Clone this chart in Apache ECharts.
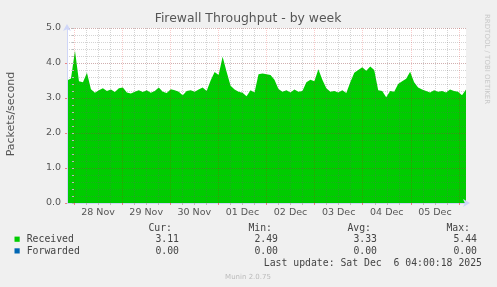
<!DOCTYPE html>
<html><head><meta charset="utf-8">
<script src="https://cdn.jsdelivr.net/npm/echarts@6/dist/echarts.min.js"></script>
<style>html,body{margin:0;padding:0;background:#f0f0f0}#c{width:497px;height:287px}</style>
</head><body><div id="c"></div>
<script>
const title = 'Firewall Throughput - by week';
const yAxisName = 'Packets/second';
const dayLabels = ['28 Nov','29 Nov','30 Nov','01 Dec','02 Dec','03 Dec','04 Dec','05 Dec'];
const dayLabelHours = [12, 36, 60, 84, 108, 132, 156, 180];      // noon of each day, hours from 28 Nov 00:00
const midnightHours = [0, 24, 48, 72, 96, 120, 144, 168, 192];
const sixHourMarks = [6,12,18,30,36,42,54,60,66,78,84,90,102,108,114,126,132,138,150,156,162,174,180,186];
const yTickLabels = ['0.0','1.0','2.0','3.0','4.0','5.0'];
const startHour = -3.5;
const endHour = 195.5;
const received = [
  3.50,3.56,4.35,3.48,3.45,3.72,3.25,3.15,3.22,3.28,
  3.20,3.24,3.17,3.28,3.30,3.16,3.13,3.18,3.22,3.17,
  3.22,3.15,3.20,3.30,3.18,3.14,3.25,3.22,3.18,3.08,
  3.20,3.22,3.18,3.24,3.30,3.20,3.50,3.74,3.66,4.18,
  3.75,3.35,3.24,3.18,3.15,3.05,3.22,3.16,3.68,3.70,
  3.68,3.66,3.52,3.26,3.18,3.22,3.16,3.24,3.18,3.20,
  3.45,3.52,3.48,3.82,3.52,3.28,3.18,3.20,3.16,3.22,
  3.14,3.45,3.72,3.80,3.88,3.78,3.90,3.80,3.22,3.20,
  3.02,3.20,3.18,3.40,3.48,3.55,3.75,3.45,3.30,3.24,
  3.20,3.16,3.22,3.18,3.20,3.16,3.24,3.20,3.18,3.08,
  3.24
];
const forwarded = [0.00, 0.00];
const legendHeaders = ['Cur:','Min:','Avg:','Max:'];
const receivedStats = ['3.11','2.49','3.33','5.44'];
const forwardedStats = ['0.00','0.00','0.00','0.00'];
const seriesNames = ['Received','Forwarded'];
const seriesColors = ['#00cc00','#0066b3'];
const lastUpdate = 'Last update: Sat Dec  6 04:00:18 2025';
const footer = 'Munin 2.0.75';
const sideText = 'RRDTOOL / TOBI OETIKER';

const step = (endHour - startHour) / (received.length - 1);
const recData = received.map((v, i) => [startHour + i * step, v]);
const fwdData = [[startHour, forwarded[0]], [endHour, forwarded[1]]];

const AXIS = '#cfd6f8';
const MAJ = 'rgba(230,0,0,0.2)';
const MIN = 'rgba(100,100,100,0.28)';
const LBL = '#555';
const SANS = 'DejaVu Sans';
const MONO = 'DejaVu Sans Mono';

function txt(x, y, text, opt) {
  opt = opt || {};
  return {
    type: 'text', x: x, y: y, rotation: opt.rotation || 0, silent: true, z: 10,
    style: {
      text: text, fill: opt.fill || '#444',
      font: (opt.size || 9.8) + 'px "' + (opt.family || MONO) + '"',
      textAlign: opt.align || 'left', align: opt.align || 'left',
      textVerticalAlign: 'middle', verticalAlign: 'middle'
    }
  };
}

const graphics = [
  txt(248, 19, title, {family: SANS, size: 12.4, fill: '#555', align: 'center'}),
  txt(10.7, 114, yAxisName, {family: SANS, size: 11, fill: '#555', align: 'center', rotation: Math.PI / 2}),
  txt(487, 14, sideText, {family: SANS, size: 7, fill: '#c8c8c8', align: 'left', rotation: -Math.PI / 2}),
  txt(248, 276.7, footer, {family: SANS, size: 7, fill: '#bbb', align: 'center'}),
  txt(482, 263.7, lastUpdate, {align: 'right'})
];
const headerRight = [172, 272, 371, 470];
const statRight = [179, 278, 377, 477];
legendHeaders.forEach((h, i) => graphics.push(txt(headerRight[i], 228.3, h, {align: 'right'})));
[receivedStats, forwardedStats].forEach((row, r) => {
  const y = r === 0 ? 239.3 : 251;
  graphics.push({type: 'rect', shape: {x: 14.5, y: y - 2.7, width: 5.2, height: 5.2}, style: {fill: seriesColors[r]}, silent: true, z: 10});
  graphics.push(txt(26.7, y, seriesNames[r]));
  row.forEach((s, i) => graphics.push(txt(statRight[i], y, s, {align: 'right'})));
});

const chart = echarts.init(document.getElementById('c'), null, {renderer: 'canvas'});
chart.setOption({
  backgroundColor: '#f0f0f0',
  animation: false,
  grid: {left: 67, right: 31, top: 28, bottom: 84, show: true, backgroundColor: '#ffffff', borderWidth: 0},
  xAxis: [{
    type: 'value', min: startHour, max: endHour, position: 'bottom', z: 3,
    axisLine: {show: true, onZero: false, lineStyle: {color: AXIS, width: 1}, symbol: ['none', 'arrow'], symbolSize: [6, 7], symbolOffset: [0, 4]},
    axisTick: {show: true, length: 2, customValues: midnightHours, lineStyle: {color: 'rgba(230,60,60,0.6)'}},
    axisLabel: {show: true, customValues: dayLabelHours, margin: 5, color: LBL, fontSize: 9.5, fontFamily: SANS,
      formatter: v => dayLabels[dayLabelHours.indexOf(Math.round(v))] || ''},
    splitLine: {show: true, lineStyle: {color: MAJ, type: [1, 1], width: 1}}
  }, {
    type: 'value', min: startHour, max: endHour, position: 'bottom', z: 3,
    axisLine: {show: false},
    axisTick: {show: true, length: 2, customValues: sixHourMarks, lineStyle: {color: '#bbb'}},
    axisLabel: {show: false},
    splitLine: {show: true, lineStyle: {color: MIN, type: [1, 1], width: 1}}
  }],
  yAxis: [{
    type: 'value', min: 0, max: 5, interval: 1, position: 'left', z: 3,
    axisLine: {show: true, onZero: false, lineStyle: {color: AXIS, width: 1}, symbol: ['none', 'arrow'], symbolSize: [6, 7], symbolOffset: [0, 4]},
    axisTick: {show: true, length: 2, lineStyle: {color: 'rgba(230,60,60,0.6)'}},
    axisLabel: {show: true, margin: 6, color: LBL, fontSize: 9.5, fontFamily: SANS,
      formatter: v => yTickLabels[Math.round(v)]},
    splitLine: {show: true, showMinLine: false, lineStyle: {color: MAJ, type: [1, 1], width: 1}}
  }, {
    type: 'value', min: 0, max: 5, interval: 0.2, position: 'left', z: 3,
    axisLine: {show: false},
    axisTick: {show: true, length: 2, lineStyle: {color: '#bbb'}},
    axisLabel: {show: false},
    splitLine: {show: true, showMinLine: false, lineStyle: {color: MIN, type: [1, 1], width: 1}}
  }],
  series: [{
    name: seriesNames[0], type: 'line', xAxisIndex: 0, yAxisIndex: 0, data: recData,
    showSymbol: false, symbol: 'none', smooth: false, z: 2,
    lineStyle: {width: 0, opacity: 0},
    areaStyle: {color: seriesColors[0], opacity: 1}
  }, {
    name: seriesNames[1], type: 'line', xAxisIndex: 0, yAxisIndex: 0, data: fwdData,
    showSymbol: false, symbol: 'none', z: 1,
    lineStyle: {width: 1, color: seriesColors[1], opacity: 0}
  }],
  graphic: graphics
});
</script></body></html>
